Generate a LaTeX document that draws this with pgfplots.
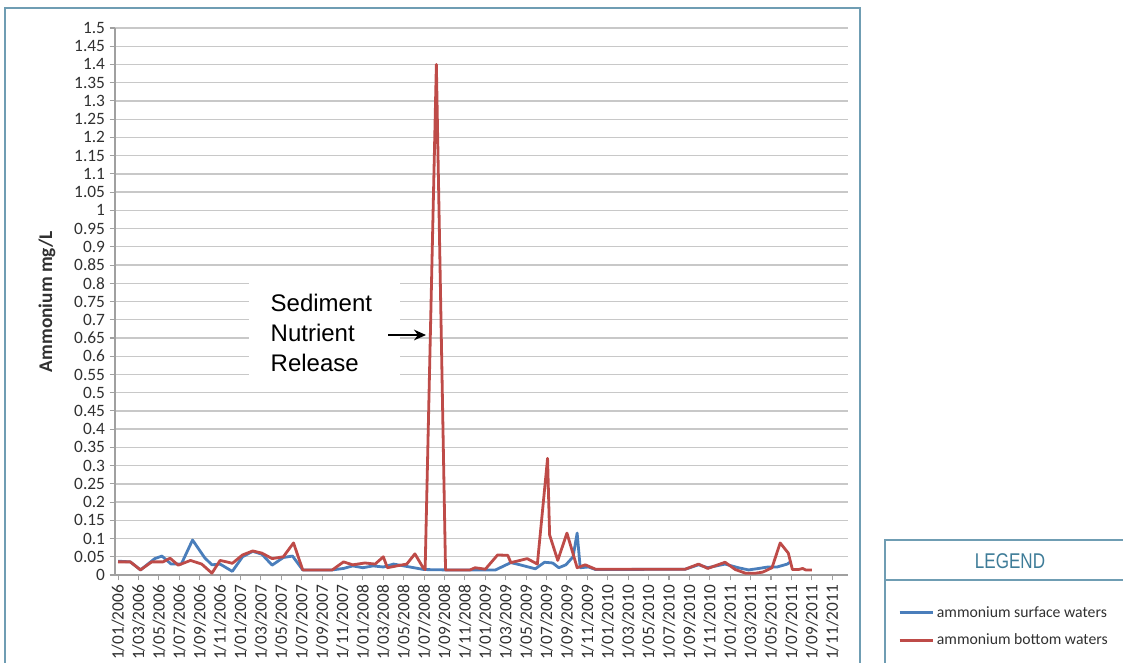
\documentclass[border=0pt]{standalone}
\usepackage{fontspec}
\setmainfont{Carlito}
\newfontfamily\arialf{Liberation Sans}
\usepackage{graphicx}
\usepackage{pgfplots}
\usepackage{pgfplotstable}
\pgfplotsset{compat=1.18}
\usetikzlibrary{arrows.meta}

\definecolor{surfblue}{HTML}{4A7EBB}
\definecolor{bottred}{HTML}{BE4B48}
\definecolor{framec}{HTML}{6F9DB3}
\definecolor{legtxt}{HTML}{3E7C98}
\definecolor{gridc}{HTML}{C8C8C8}
\definecolor{axisc}{HTML}{A0A0A0}
\definecolor{txt}{HTML}{303030}

% values, x in months from 1/01/2006
\pgfplotstableread{
x     y
0.0   0.038
1.2   0.036
2.2   0.014
3.6   0.045
4.3   0.052
5.2   0.030
6.2   0.030
7.3   0.096
8.5   0.047
9.2   0.028
10.0  0.030
11.2  0.010
12.2  0.050
13.2  0.065
14.1  0.057
15.1  0.027
16.2  0.048
17.1  0.052
18.1  0.014
21.0  0.014
22.1  0.018
23.0  0.025
24.0  0.020
25.0  0.025
26.0  0.022
27.0  0.030
28.0  0.025
29.0  0.020
30.0  0.015
32.1  0.014
37.0  0.014
38.5  0.034
39.4  0.028
40.9  0.017
41.8  0.035
42.6  0.033
43.2  0.020
43.9  0.028
44.6  0.050
45.0  0.115
45.3  0.020
46.1  0.022
46.8  0.015
55.6  0.016
56.9  0.028
57.8  0.020
59.5  0.030
60.8  0.020
61.8  0.014
62.8  0.018
63.7  0.022
64.6  0.022
65.6  0.030
66.0  0.038
}\tabsurface

\pgfplotstableread{
x     y
0.0   0.036
1.2   0.036
2.2   0.014
3.3   0.036
4.4   0.036
5.1   0.046
5.9   0.027
7.1   0.040
8.2   0.030
9.2   0.005
10.0  0.040
10.8  0.035
11.2  0.032
12.2  0.055
13.2  0.066
14.1  0.060
15.1  0.045
16.2  0.050
17.2  0.088
18.1  0.014
21.0  0.014
22.1  0.036
23.0  0.028
24.2  0.033
25.2  0.030
26.0  0.050
26.4  0.020
27.5  0.026
28.3  0.030
29.1  0.058
29.9  0.020
30.1  0.015
31.2  1.400
32.1  0.014
34.5  0.014
35.0  0.020
36.0  0.016
37.2  0.055
38.2  0.054
38.5  0.034
39.4  0.040
40.1  0.045
41.1  0.030
42.1  0.320
42.3  0.110
43.1  0.040
44.0  0.115
45.0  0.020
45.8  0.028
46.8  0.016
55.6  0.016
56.9  0.030
57.8  0.018
59.5  0.035
60.5  0.015
61.5  0.005
62.5  0.005
63.2  0.008
64.1  0.020
64.9  0.088
65.7  0.060
66.1  0.015
66.7  0.015
67.1  0.018
67.4  0.014
68.0  0.014
}\tabbottom

\begin{document}
\begin{tikzpicture}
\useasboundingbox (0,0) rectangle (842.25pt,-496.5pt);

% frames (coordinates in pixels of the reference, y downwards)
\begin{scope}[x=0.75pt,y=-0.75pt]
  \draw[framec, line width=1.2pt] (5,700) -- (5,8) -- (860,8) -- (860,700);
  \draw[framec, line width=1pt] (885,700) -- (885,540) -- (1130,540);
  \draw[framec, line width=1pt] (885,580) -- (1130,580);
  \node[legtxt] at (1010,561)
    {\arialf\fontsize{16}{16}\selectfont\scalebox{0.8}[1]{LEGEND}};
\end{scope}

\begin{axis}[
    at={(86.25pt,-431.25pt)}, anchor=south west,
    scale only axis,
    width=549.75pt, height=410.25pt,
    xmin=-0.3, xmax=71.55,
    ymin=0, ymax=1.5,
    axis x line*=bottom, axis y line*=left,
    axis line style={axisc, line width=0.8pt},
    tick align=outside,
    major tick length=4pt,
    tick style={axisc, line width=0.8pt},
    ymajorgrids,
    major grid style={gridc, line width=1pt},
    ytick={0,0.05,...,1.51},
    scaled y ticks=false,
    yticklabel style={
        font=\fontsize{13}{13}\selectfont, text=txt,
        /pgf/number format/.cd, fixed, precision=2, assume math mode=true,
    },
    xtick={0,2,...,70},
    xticklabels={
        1/01/2006,1/03/2006,1/05/2006,1/07/2006,1/09/2006,1/11/2006,
        1/01/2007,1/03/2007,1/05/2007,1/07/2007,1/09/2007,1/11/2007,
        1/01/2008,1/03/2008,1/05/2008,1/07/2008,1/09/2008,1/11/2008,
        1/01/2009,1/03/2009,1/05/2009,1/07/2009,1/09/2009,1/11/2009,
        1/01/2010,1/03/2010,1/05/2010,1/07/2010,1/09/2010,1/11/2010,
        1/01/2011,1/03/2011,1/05/2011,1/07/2011,1/09/2011,1/11/2011},
    xticklabel style={rotate=90, anchor=east, text=txt,
        font=\fontsize{13}{13}\selectfont},
    ylabel={Ammonium mg/L},
    ylabel style={font=\bfseries\fontsize{14.5}{14.5}\selectfont, text=txt,
        at={(axis description cs:-0.0928,0.5)}, anchor=center},
    legend style={
        at={(axis description cs:1.068,-0.052)}, anchor=north west,
        draw=none, fill=none, inner sep=0pt,
        font=\fontsize{11.8}{11.8}\selectfont, text=txt,
        row sep=7pt,
        /tikz/every even column/.append style={column sep=2pt},
    },
    legend cell align=left,
    legend image code/.code={\draw[#1] (0pt,0pt) -- (25pt,0pt);},
]
  \addplot[surfblue, line width=2.1pt, line join=round] table[x=x, y=y] {\tabsurface};
  \addlegendentry{ammonium surface waters}
  \addplot[bottred, line width=2.1pt, line join=round] table[x=x, y=y] {\tabbottom};
  \addlegendentry{ammonium bottom waters}
\end{axis}

% annotation
\begin{scope}[x=0.75pt,y=-0.75pt]
  \fill[white] (249,279) rectangle (400,377);
  \node[anchor=west, align=left, font=\arialf\fontsize{18}{22.5}\selectfont]
    at (266,333) {Sediment\\Nutrient\\Release};
  \draw[-{Stealth[length=9pt, width=8pt]}, line width=1.4pt] (388,335) -- (426,335);
\end{scope}
\end{tikzpicture}
\end{document}
